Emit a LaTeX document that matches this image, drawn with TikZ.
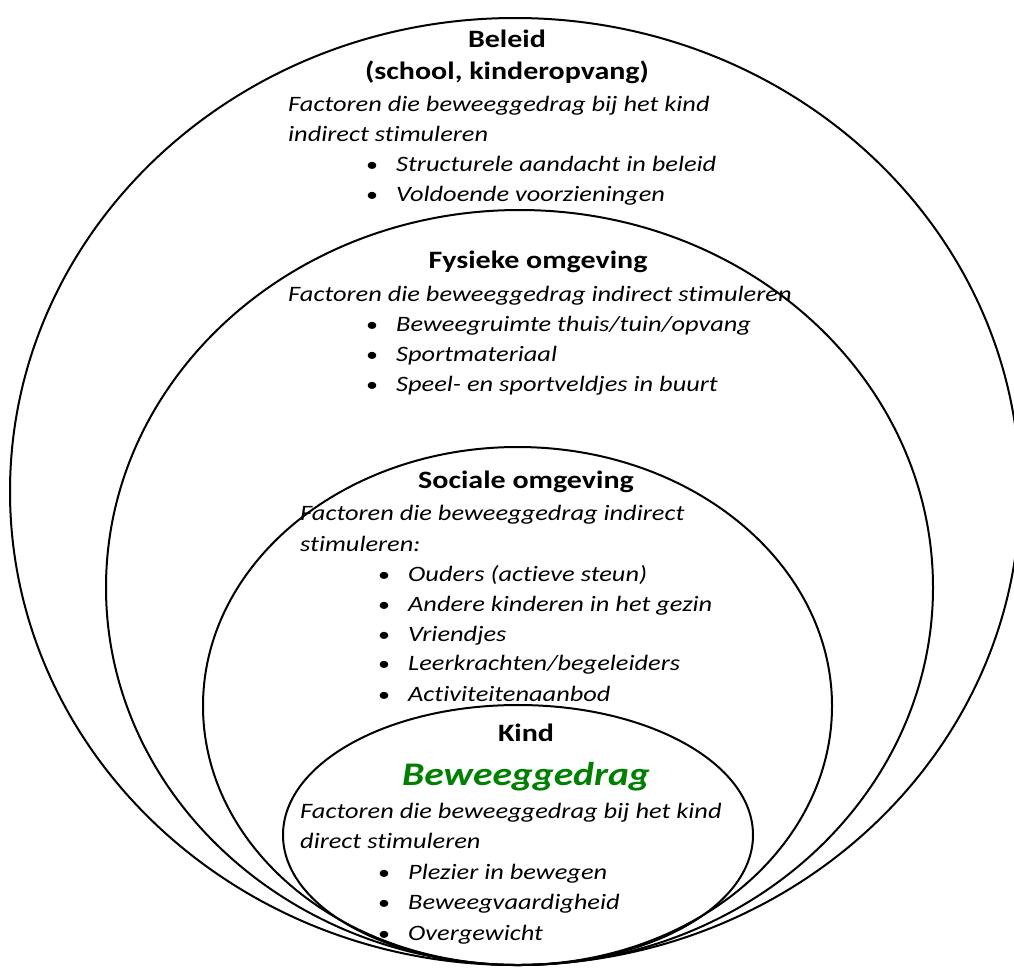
\documentclass[tikz,border=0pt]{standalone}
\usepackage{fontspec}
\setmainfont{Carlito}[FakeStretch=1.2, Ligatures=NoCommon]
\usetikzlibrary{shapes.geometric}
\definecolor{kgreen}{RGB}{0,128,0}
\tikzset{
  ring/.style={ellipse, draw=black, line width=2pt, inner sep=0pt},
  head/.style={anchor=base, inner sep=0pt, font=\fontsize{25}{30}\selectfont\bfseries},
  body/.style={anchor=base west, inner sep=0pt, font=\fontsize{22}{28}\selectfont\itshape},
  bul/.style={anchor=base, inner sep=0pt, font=\fontsize{20}{24}\selectfont},
}
\begin{document}
\begin{tikzpicture}[x=1pt,y=-1pt]
\useasboundingbox (0,0) rectangle (1014,967);
\fill[white] (0,0) rectangle (1014,967);
% rings
\node[ring, minimum width=1010pt, minimum height=947pt] (e1) at (515,491.5) {};
\node[ring, minimum width=827pt, minimum height=755pt] (e2) at (519.5,587.5) {};
\node[ring, minimum width=629pt, minimum height=518pt] (e3) at (517.5,706) {};
\node[ring, minimum width=470pt, minimum height=260pt] (e4) at (518,835) {};
% Beleid
\node[head] (t1a) at (507,47) {Beleid};
\node[head] (t1b) at (507,79) {(school, kinderopvang)};
\node[body] (t1c) at (288,111) {Factoren die beweeggedrag bij het kind};
\node[body] (t1d) at (288,141) {indirect stimuleren};
\node[bul] (b1a) at (372,171) {•};
\node[body] (t1e) at (396,171) {Structurele aandacht in beleid};
\node[bul] (b1b) at (372,201) {•};
\node[body] (t1f) at (396,201) {Voldoende voorzieningen};
% Fysieke omgeving
\node[head] (t2a) at (538,268) {Fysieke omgeving};
\node[body] (t2b) at (288,301) {Factoren die beweeggedrag indirect stimuleren};
\node[bul] (b2a) at (372,331) {•};
\node[body] (t2c) at (396,331) {Beweegruimte thuis/tuin/opvang};
\node[bul] (b2b) at (372,361) {•};
\node[body] (t2d) at (396,361) {Sportmateriaal};
\node[bul] (b2c) at (372,391) {•};
\node[body] (t2e) at (396,391) {Speel- en sportveldjes in buurt};
% Sociale omgeving
\node[head] (t3a) at (526,488) {Sociale omgeving};
\node[body] (t3b) at (300,520) {Factoren die beweeggedrag indirect};
\node[body] (t3c) at (300,551) {stimuleren:};
\node[bul] (b3a) at (384,581) {•};
\node[body] (t3d) at (408,581) {Ouders (actieve steun)};
\node[bul] (b3b) at (384,611) {•};
\node[body] (t3e) at (408,611) {Andere kinderen in het gezin};
\node[bul] (b3c) at (384,641) {•};
\node[body] (t3f) at (408,641) {Vriendjes};
\node[bul] (b3d) at (384,670) {•};
\node[body] (t3g) at (408,670) {Leerkrachten/begeleiders};
\node[bul] (b3e) at (384,701) {•};
\node[body] (t3h) at (408,701) {Activiteitenaanbod};
% Kind
\node[head] (t4a) at (526,741) {Kind};
\node[anchor=base, inner sep=0pt, font=\fontsize{33}{40}\selectfont\bfseries\itshape, text=kgreen] (t4b) at (526,785) {Beweeggedrag};
\node[body] (t4c) at (300,818) {Factoren die beweeggedrag bij het kind};
\node[body] (t4d) at (300,848) {direct stimuleren};
\node[bul] (b4a) at (384,879) {•};
\node[body] (t4e) at (408,879) {Plezier in bewegen};
\node[bul] (b4b) at (384,909) {•};
\node[body] (t4f) at (408,909) {Beweegvaardigheid};
\node[bul] (b4c) at (384,940) {•};
\node[body] (t4g) at (408,940) {Overgewicht};
\end{tikzpicture}
\end{document}
